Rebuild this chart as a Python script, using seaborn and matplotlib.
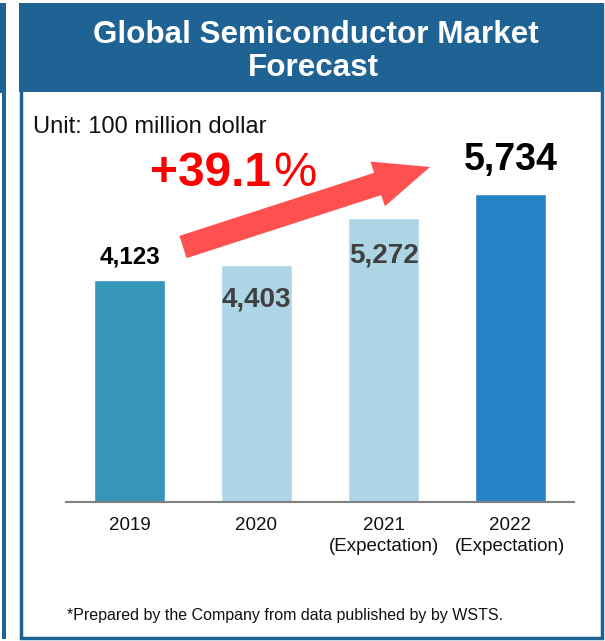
import matplotlib
matplotlib.use("Agg")
import matplotlib.pyplot as plt
import seaborn as sns
import pandas as pd
from matplotlib.patches import Rectangle, Polygon

years = ["2019", "2020", "2021\n(Expectation)", "2022\n(Expectation)"]
market = [4123, 4403, 5272, 5734]
value_labels = ["4,123", "4,403", "5,272", "5,734"]
bar_colors = ["#3595BA", "#ADD5E6", "#ADD5E6", "#2683C6"]
growth_text = "+39.1"

sns.set_style("white")
plt.rcParams["font.family"] = ["Liberation Sans", "DejaVu Sans"]

W, H = 605, 641
fig = plt.figure(figsize=(W / 100, H / 100), dpi=100)


def fx(x):
    return x / W


def fy(y):
    return 1 - y / H


# axes placed so that the baseline sits at y=501.5 px
base_px, top_px = 501.5, 100
px_per_unit = 0.0537
ax = fig.add_axes([fx(66), fy(base_px), fx(574) - fx(66), (base_px - top_px) / H])

df = pd.DataFrame({"year": years, "market": market})
sns.barplot(data=df, x="year", y="market", hue="year", palette=bar_colors,
            width=0.56, legend=False, saturation=1, ax=ax)
ax.set_xlim(-0.5, 3.5)
ax.set_ylim(0, (base_px - top_px) / px_per_unit)
ax.set_xlabel("")
ax.set_ylabel("")
ax.set_yticks([])
for s in ["top", "right", "left"]:
    ax.spines[s].set_visible(False)
ax.spines["bottom"].set_color("#808080")
ax.spines["bottom"].set_linewidth(1.5)
ax.tick_params(axis="x", length=0, pad=11, labelsize=13.5, colors="#111111")
for lab in ax.get_xticklabels():
    lab.set_linespacing(1.3)
ax.patch.set_alpha(0)

# value labels: offset from bar top (in data units), size, colour
label_offsets = [300, -771, -826, 439]
label_sizes = [17.5, 20, 20, 27]
label_colors = ["#000000", "#404040", "#404040", "#000000"]
for i, v in enumerate(market):
    ax.text(i, v + label_offsets[i], value_labels[i], ha="center", va="baseline",
            fontsize=label_sizes[i], fontweight="bold", color=label_colors[i])

# panel frame and title band
band = "#1F6294"
fig.patches.append(Rectangle((fx(19), fy(92)), fx(603.5) - fx(19), fy(3) - fy(92),
                             transform=fig.transFigure, facecolor=band, edgecolor="none", zorder=0))
fig.patches.append(Rectangle((fx(20.75), fy(638.25)), fx(601.75) - fx(20.75), fy(4.75) - fy(638.25),
                             transform=fig.transFigure, facecolor="none", edgecolor=band,
                             linewidth=2.5, zorder=0))
# neighbour panel edge on the left
fig.patches.append(Rectangle((0, fy(93)), fx(5.5), fy(3) - fy(93),
                             transform=fig.transFigure, facecolor=band, edgecolor="none", zorder=0))
fig.patches.append(Rectangle((fx(2), fy(639)), fx(3.5), fy(93) - fy(639),
                             transform=fig.transFigure, facecolor=band, edgecolor="none", zorder=0))

fig.text(fx(316), fy(43), "Global Semiconductor Market", ha="center", va="baseline",
         fontsize=22.6, fontweight="bold", color="white")
fig.text(fx(313), fy(76), "Forecast", ha="center", va="baseline",
         fontsize=22.6, fontweight="bold", color="white")
fig.text(fx(33), fy(133.3), "Unit: 100 million dollar", ha="left", va="baseline",
         fontsize=17, color="#111111")
fig.text(fx(67), fy(620), "*Prepared by the Company from data published by by WSTS.",
         ha="left", va="baseline", fontsize=11.5, color="#111111")

# growth arrow
tail, tip = (183.0, 247.0), (430.0, 167.0)
shaft_hw, head_hw, head_len = 11.7, 23.5, 55.0
dx, dy = tip[0] - tail[0], tip[1] - tail[1]
L = (dx ** 2 + dy ** 2) ** 0.5
ux, uy = dx / L, dy / L
nx, ny = -uy, ux
bx, by = tip[0] - ux * head_len, tip[1] - uy * head_len
pts = [
    (tail[0] + nx * shaft_hw, tail[1] + ny * shaft_hw),
    (bx + nx * shaft_hw, by + ny * shaft_hw),
    (bx + nx * head_hw, by + ny * head_hw),
    tip,
    (bx - nx * head_hw, by - ny * head_hw),
    (bx - nx * shaft_hw, by - ny * shaft_hw),
    (tail[0] - nx * shaft_hw, tail[1] - ny * shaft_hw),
]
fig.patches.append(Polygon([(fx(x), fy(y)) for x, y in pts], closed=True,
                           transform=fig.transFigure, facecolor="#FF5050",
                           edgecolor="none", zorder=3))

t = fig.text(fx(150), fy(186.5), growth_text, ha="left", va="baseline",
             fontsize=34.5, fontweight="bold", color="#FF0000")
fig.canvas.draw()
bb = t.get_window_extent()
fig.text(bb.x1 / W + 0.004, fy(186.5), "%", ha="left", va="baseline",
         fontsize=35, color="#FF0000")

fig.savefig("out.png", dpi=100)
